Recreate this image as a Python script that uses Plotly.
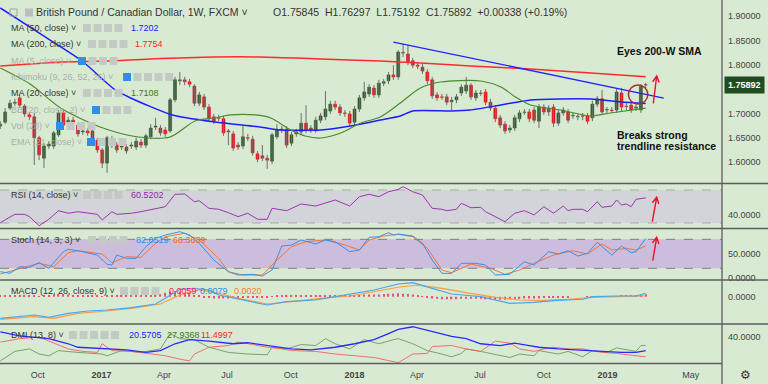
import math
from datetime import date, timedelta
import plotly.graph_objects as go

W, H = 768, 384
PW, PH = 722, 364          # plot area (right margin 46, bottom margin 20)

# ---------------- weekly candles GBP/CAD ----------------
opn = [1.674,1.682,1.711,1.721,1.732,1.715,1.697,1.693,1.650,1.608,
       1.633,1.633,1.656,1.701,1.682,1.686,1.676,1.662,1.664,1.664,
       1.645,1.625,1.598,1.647,1.635,1.631,1.631,1.633,1.631,1.641,
       1.635,1.652,1.672,1.670,1.666,1.664,1.728,1.767,1.769,1.765,
       1.756,1.721,1.734,1.713,1.693,1.691,1.689,1.664,1.658,1.635,
       1.633,1.650,1.647,1.617,1.613,1.608,1.602,1.652,1.666,1.668,
       1.639,1.658,1.662,1.680,1.670,1.666,1.686,1.693,1.705,1.719,
       1.713,1.701,1.699,1.682,1.709,1.732,1.740,1.752,1.738,1.762,
       1.767,1.779,1.775,1.824,1.822,1.808,1.799,1.795,1.785,1.769,
       1.738,1.734,1.734,1.724,1.728,1.742,1.746,1.758,1.732,1.742,
       1.744,1.723,1.711,1.691,1.678,1.666,1.670,1.689,1.703,1.703,
       1.707,1.684,1.713,1.711,1.713,1.680,1.701,1.703,1.695,1.693,
       1.695,1.695,1.691,1.719,1.730,1.707,1.707,1.707,1.742,1.715,
       1.717,1.711,1.707,1.75845]
high = [1.684,1.711,1.728,1.730,1.738,1.719,1.703,1.701,1.654,1.639,
        1.643,1.664,1.707,1.707,1.693,1.693,1.682,1.670,1.670,1.668,
        1.650,1.629,1.654,1.654,1.641,1.639,1.637,1.641,1.650,1.647,
        1.658,1.678,1.691,1.676,1.672,1.732,1.775,1.785,1.775,1.771,
        1.760,1.744,1.740,1.719,1.699,1.697,1.695,1.668,1.664,1.641,
        1.674,1.658,1.654,1.623,1.635,1.615,1.660,1.678,1.674,1.674,
        1.662,1.668,1.701,1.717,1.676,1.693,1.701,1.746,1.726,1.726,
        1.719,1.707,1.705,1.715,1.738,1.765,1.760,1.758,1.769,1.771,
        1.785,1.799,1.830,1.843,1.841,1.814,1.804,1.802,1.791,1.775,
        1.744,1.740,1.740,1.734,1.740,1.760,1.775,1.762,1.748,1.748,
        1.750,1.730,1.717,1.697,1.684,1.676,1.697,1.707,1.709,1.709,
        1.713,1.719,1.719,1.717,1.719,1.707,1.713,1.709,1.701,1.699,
        1.701,1.701,1.726,1.736,1.748,1.713,1.713,1.750,1.752,1.721,
        1.723,1.719,1.760,1.76297]
low = [1.668,1.678,1.707,1.715,1.711,1.693,1.686,1.594,1.604,1.588,
       1.627,1.627,1.652,1.670,1.674,1.676,1.652,1.656,1.654,1.639,
       1.619,1.588,1.578,1.629,1.619,1.625,1.617,1.627,1.625,1.629,
       1.629,1.647,1.666,1.654,1.652,1.660,1.723,1.758,1.758,1.754,
       1.715,1.715,1.707,1.682,1.678,1.684,1.654,1.635,1.623,1.625,
       1.627,1.643,1.613,1.600,1.602,1.586,1.596,1.647,1.660,1.629,
       1.633,1.652,1.656,1.660,1.660,1.660,1.680,1.686,1.699,1.707,
       1.695,1.693,1.674,1.676,1.703,1.726,1.734,1.732,1.732,1.756,
       1.760,1.769,1.769,1.816,1.799,1.793,1.791,1.781,1.760,1.730,
       1.726,1.728,1.717,1.707,1.721,1.736,1.740,1.728,1.726,1.736,
       1.717,1.705,1.682,1.670,1.658,1.660,1.664,1.682,1.697,1.682,
       1.680,1.670,1.697,1.695,1.672,1.674,1.695,1.680,1.689,1.686,
       1.686,1.678,1.684,1.713,1.697,1.699,1.701,1.701,1.703,1.707,
       1.701,1.705,1.701,1.75192]
close_ = [1.678,1.703,1.721,1.723,1.717,1.699,1.693,1.650,1.615,1.633,
          1.637,1.660,1.701,1.676,1.686,1.682,1.658,1.664,1.660,1.645,
          1.625,1.598,1.650,1.635,1.625,1.633,1.623,1.635,1.643,1.635,
          1.654,1.670,1.674,1.660,1.658,1.728,1.769,1.769,1.765,1.760,
          1.721,1.738,1.713,1.689,1.684,1.690,1.660,1.662,1.629,1.631,
          1.652,1.649,1.619,1.606,1.608,1.604,1.656,1.666,1.668,1.635,
          1.656,1.662,1.680,1.666,1.666,1.686,1.695,1.709,1.719,1.713,
          1.701,1.700,1.680,1.709,1.732,1.744,1.754,1.738,1.762,1.765,
          1.779,1.775,1.826,1.825,1.806,1.799,1.797,1.787,1.767,1.736,
          1.732,1.733,1.723,1.727,1.734,1.754,1.758,1.734,1.742,1.741,
          1.723,1.711,1.689,1.676,1.664,1.670,1.691,1.701,1.702,1.689,
          1.686,1.713,1.703,1.703,1.680,1.701,1.707,1.686,1.696,1.694,
          1.694,1.684,1.719,1.730,1.703,1.708,1.706,1.744,1.713,1.714,
          1.707,1.713,1.7555,1.75892]

# ---------------- moving averages ----------------
ma50_dates = ["2016-08-08","2016-10-05","2016-12-04","2017-01-07","2017-01-21","2017-02-12",
              "2017-04-13","2017-06-14","2017-08-18","2017-09-16","2017-11-13","2017-12-26",
              "2018-02-07","2018-03-08","2018-03-26","2018-05-20","2018-06-17","2018-07-31",
              "2018-09-12","2018-10-25","2018-12-08","2019-01-20","2019-02-25"]
ma50_vals = [1.9165,1.8631,1.8076,1.7645,1.7481,1.7317,1.6968,1.6824,1.6721,1.6660,1.6660,
             1.6742,1.6865,1.6947,1.7050,1.7050,1.7070,1.7173,1.7276,1.7296,1.7296,1.7235,1.7202]
ma200_dates = ["2016-08-08","2016-09-20","2016-11-03","2017-01-07","2017-03-12","2017-06-14",
               "2017-08-18","2017-11-13","2018-02-07","2018-04-06","2018-06-17","2018-09-12",
               "2018-12-08","2019-02-25"]
ma200_vals = [1.7974,1.8015,1.8056,1.8076,1.8118,1.8159,1.8159,1.8118,1.8076,1.8035,1.7974,
              1.7912,1.7830,1.7754]
ma20_dates = ["2016-08-08","2016-09-20","2016-11-03","2016-12-30","2017-02-23","2017-04-10",
              "2017-05-16","2017-06-14","2017-07-06","2017-08-11","2017-09-02","2017-10-01",
              "2017-10-22","2017-11-13","2017-12-12","2018-01-10","2018-02-07","2018-03-08",
              "2018-04-06","2018-05-05","2018-07-02","2018-07-31","2018-08-21","2018-09-12",
              "2018-10-25","2018-12-08","2019-01-05","2019-02-25"]
ma20_vals = [1.7933,1.7604,1.7111,1.6721,1.6516,1.6516,1.6844,1.6906,1.6968,1.6968,1.6906,
             1.6660,1.6536,1.6495,1.6598,1.6803,1.6927,1.7214,1.7522,1.7645,1.7666,1.7543,
             1.7337,1.7173,1.7070,1.6947,1.7009,1.7108]
trend_dates = ["2018-02-26", "2019-03-23"]
trend_vals = [1.8466, 1.7316]

# ---------------- indicators (bar index, value) ----------------
rsi_idx = [0,3,5,6,8,10,12,14,16,18,20,21,23,24,27,29,32,34,36,38,40,41,43,45,47,49,51,53,55,56,
           59,60,62,65,67,69,72,74,76,78,80,82,83,85,87,89,91,92,94,95,97,99,100,102,104,106,108,
           110,112,114,116,117,118,120,121,123,124,126,127,128,129,130,131,133]
rsi_val = [30.4,40.5,40.5,37.7,26.7,34.5,44.9,41.8,43.7,42.5,40.5,33.6,43.7,40.5,41.8,43.7,47.8,
           49.8,64.8,65.2,55.8,57.0,47.8,46.6,42.5,37.7,41.8,34.5,34.5,47.8,44.9,47.8,53.0,50.6,
           54.6,57.9,50.6,61.9,64.8,61.9,67.9,70.8,74.0,67.9,63.9,47.8,46.6,44.9,46.6,53.9,48.5,
           49.0,43.7,37.7,31.6,41.8,44.9,39.7,49.8,41.8,50.6,44.9,46.6,46.6,43.7,55.8,49.0,50.6,
           57.9,51.8,53.0,49.8,58.7,60.52]
k_idx = [0,2,4,6,8,10,13,14,16,20,22,23,24,26,28,30,32,34,37,39,41,44,47,49,52,54,56,58,60,62,
         65,67,69,72,74,76,78,80,81,82,85,87,89,91,93,95,98,100,102,105,106,108,110,113,115,117,
         119,121,123,126,128,130,131,133]
k_val = [13,9.6,23.3,22,31.6,20,54.4,59.3,56.4,47.5,28.3,26.8,47.5,40.7,40.7,64.7,82,88.9,95.8,
         88.9,71.8,37.2,13,6.1,7.6,4.1,16.5,66.2,68.2,78.6,70.3,78.6,75.1,54.4,57.9,84.2,85.4,
         93.7,88.9,91,86.9,71.8,37.2,9.6,9.6,30.4,30.4,26.8,6.1,7.6,16.5,33.7,26.8,54.4,49.6,
         56.4,45.5,51.1,73.8,47.5,66.2,52.3,54.4,82.05]
d_idx = [0,4,8,11,14,16,21,23,26,29,32,34,38,41,45,47,50,54,57,60,63,67,71,74,76,79,82,85,88,91,
         93,97,101,104,107,110,114,118,121,124,126,129,131,133]
d_val = [8.2,20,30.4,23.3,52.3,56.4,49.6,31.6,44,42.8,71.8,85.4,92.5,78.6,40.7,13,6.1,6.1,37.2,
         64.7,75.1,78.6,68.2,57.9,78.6,86.9,90.4,85.4,61.4,16.5,10.9,29,20,7.6,16.5,30.4,47.5,
         56.4,49.6,70.3,57.9,61.4,57.9,66.36]
macd_idx = [0,4,7,10,14,18,22,27,32,34,37,40,43,45,49,55,59,65,69,73,77,82,85,89,93,99,103,105,
            110,114,120,122,127,131,133]
macd_val = [-0.0503,-0.0465,-0.0426,-0.048,-0.0387,-0.0333,-0.031,-0.0256,-0.017,-0.0038,0.0172,
            0.0195,0.0156,0.004,-0.006,-0.0193,-0.0116,-0.0077,0.0,0.0079,0.0156,0.0295,0.0326,
            0.0195,0.0063,0.0,-0.0093,-0.0155,-0.013,-0.0093,-0.006,0.0,0.0016,0.0016,0.0079]
sig_idx = [0,7,11,16,22,27,33,37,41,45,49,55,60,66,72,77,82,86,91,96,102,107,111,117,122,127,133]
sig_val = [-0.0526,-0.0465,-0.0503,-0.0387,-0.0333,-0.027,-0.017,0.004,0.0156,0.0079,-0.0038,
           -0.017,-0.0116,-0.0038,0.0016,0.0116,0.0219,0.0272,0.0195,0.0093,-0.0014,-0.0077,
           -0.0093,-0.006,-0.0014,0.0,0.002]
hist_val = [0.002,0.002,0.0025,0.003,0.003,0.0035,0.003,0.002,0.001,0.002,
            0.004,0.005,0.006,0.006,0.005,0.004,0.004,0.003,0.003,0.003,
            0.002,0.001,0.002,0.002,0.002,0.002,0.002,0.002,0.003,0.003,
            0.003,0.003,0.004,0.006,0.009,0.012,0.013,0.012,0.009,0.006,
            0.004,0.002,-0.001,-0.003,-0.004,-0.004,-0.004,-0.004,-0.003,-0.003,
            -0.003,-0.003,-0.003,-0.003,-0.002,-0.002,0.001,0.002,0.003,0.003,
            0.003,0.003,0.003,0.003,0.003,0.003,0.003,0.004,0.004,0.004,
            0.004,0.004,0.004,0.004,0.004,0.005,0.005,0.005,0.005,0.006,
            0.007,0.007,0.008,0.007,0.006,0.005,0.004,0.001,-0.002,-0.004,
            -0.005,-0.006,-0.006,-0.006,-0.006,-0.005,-0.005,-0.005,-0.005,-0.005,
            -0.006,-0.006,-0.007,-0.007,-0.007,-0.006,-0.005,-0.005,-0.004,-0.004,
            -0.004,-0.004,-0.003,-0.003,-0.002,-0.002,-0.002,-0.001,0.0,0.0,
            0.0,0.001,0.001,0.001,0.001,0.0015,0.0015,0.0015,0.002,0.002,
            0.002,0.003,0.004,0.0059]
adx_idx = [0,4,10,14,16,21,26,30,33,36,39,43,48,51,55,60,64,69,73,77,80,82,85,88,91,93,96,99,103,
           106,109,111,115,120,124,128,131,133]
adx_val = [47.9,42,38,30.6,25.5,23.1,21.6,18,20.6,30.6,36.5,34.5,30.6,32.1,28,23.1,21.6,25.5,30.6,
           36.5,45.5,51.5,55.4,50.5,44.5,41.5,38,30.6,28,31.5,28,25.5,23.1,21.6,19.5,18,18,20.57]
pdi_idx = [0,3,6,8,10,12,16,21,22,25,29,33,35,37,40,43,47,51,55,56,59,62,65,67,69,72,75,78,81,82,
           85,88,91,93,95,96,100,105,107,110,111,115,117,120,122,125,127,131,132,133]
pdi_val = [5.6,19.5,23.1,15.6,13.1,20.6,18,15.6,13.1,20.6,18,23.1,45.5,38,36.5,25.5,18,15.6,14.6,
           25.5,23.1,29.5,28,38,30.6,23.1,36.5,30.6,36.5,38,30.6,20.6,15.6,11.6,16.5,23.1,18,10.6,
           15.6,13.1,20.6,15.6,19.5,11.6,20.6,18,24.6,19.5,28,27.94]
mdi_idx = [0,4,8,10,14,17,20,21,23,27,32,34,37,39,40,43,47,49,52,55,58,60,65,69,73,77,82,85,88,89,
           93,96,99,102,105,107,110,112,114,117,120,124,127,133]
mdi_val = [33,38,40.4,34.5,23.1,19.5,18,30.6,20.6,19.5,15.6,13.1,8.2,5.6,15.6,25.5,28,33,29.5,25.5,
           23.1,20.6,19.5,15.6,13.1,10.6,3.1,15.6,16.5,26.5,28,23.1,19.5,34.5,31.5,23.1,19.5,23.1,
           25.5,23.1,23.1,18,16.5,11.5]

x_tick_vals = ["2016-10-01","2017-01-01","2017-04-01","2017-07-01","2017-10-01","2018-01-01",
               "2018-04-01","2018-07-01","2018-10-01","2019-01-01","2019-05-01"]
x_tick_text = ["Oct","<b>2017</b>","Apr","Jul","Oct","<b>2018</b>","Apr","Jul","Oct","<b>2019</b>","May"]
price_ticks = [1.60, 1.65, 1.70, 1.80, 1.85, 1.90]

# ---------------- build ----------------
FONT = "Liberation Sans, Arial, sans-serif"
BG = "#d9ead3"
start = date(2016, 8, 8)
dates = [(start + timedelta(weeks=i)).isoformat() for i in range(len(close_))]
DAY = 86400000

fig = go.Figure()

# wicks
wx, wy = [], []
for d, h, l in zip(dates, high, low):
    wx += [d, d, None]
    wy += [l, h, None]
fig.add_trace(go.Scatter(x=wx, y=wy, mode="lines", line=dict(color="#6e6e6e", width=1),
                         xaxis="x", yaxis="y", hoverinfo="skip"))
# bodies
up_c, dn_c = "#2b5b2b", "#e3161c"
cols = [up_c if c >= o else dn_c for o, c in zip(opn, close_)]
fig.add_trace(go.Bar(x=dates, y=[max(abs(c - o), 0.0003) for o, c in zip(opn, close_)],
                     base=[min(o, c) for o, c in zip(opn, close_)], width=4.2 * DAY,
                     marker=dict(color=cols, line=dict(color=cols, width=0.6)),
                     xaxis="x", yaxis="y", hoverinfo="skip"))
# MAs
fig.add_trace(go.Scatter(x=ma200_dates, y=ma200_vals, mode="lines",
                         line=dict(color="#ff2a2a", width=1.5, shape="spline", smoothing=0.8),
                         xaxis="x", yaxis="y"))
fig.add_trace(go.Scatter(x=ma50_dates, y=ma50_vals, mode="lines",
                         line=dict(color="#1e1eff", width=1.5, shape="spline", smoothing=0.6),
                         xaxis="x", yaxis="y"))
fig.add_trace(go.Scatter(x=ma20_dates, y=ma20_vals, mode="lines",
                         line=dict(color="#4a8a2c", width=1.2, shape="spline", smoothing=0.8),
                         xaxis="x", yaxis="y"))
fig.add_trace(go.Scatter(x=trend_dates, y=trend_vals, mode="lines",
                         line=dict(color="#2424ff", width=1.3), xaxis="x", yaxis="y"))

def sel(idx):
    return [dates[i] for i in idx]

fig.add_trace(go.Scatter(x=sel(rsi_idx), y=rsi_val, mode="lines",
                         line=dict(color="#9c34b0", width=1), xaxis="x", yaxis="y2"))
fig.add_trace(go.Scatter(x=sel(d_idx), y=d_val, mode="lines",
                         line=dict(color="#f2743a", width=1), xaxis="x", yaxis="y3"))
fig.add_trace(go.Scatter(x=sel(k_idx), y=k_val, mode="lines",
                         line=dict(color="#3a8ef0", width=1), xaxis="x", yaxis="y3"))
fig.add_trace(go.Bar(x=dates, y=hist_val, width=1.8 * DAY, marker=dict(color="#ef4f7f", line=dict(width=0)),
                     xaxis="x", yaxis="y4"))
fig.add_trace(go.Scatter(x=sel(sig_idx), y=sig_val, mode="lines",
                         line=dict(color="#ff9a45", width=1.2), xaxis="x", yaxis="y4"))
fig.add_trace(go.Scatter(x=sel(macd_idx), y=macd_val, mode="lines",
                         line=dict(color="#4aa6ee", width=1.2), xaxis="x", yaxis="y4"))
fig.add_trace(go.Scatter(x=sel(pdi_idx), y=pdi_val, mode="lines",
                         line=dict(color="#6c9c58", width=0.9), xaxis="x", yaxis="y5"))
fig.add_trace(go.Scatter(x=sel(mdi_idx), y=mdi_val, mode="lines",
                         line=dict(color="#f06262", width=0.9), xaxis="x", yaxis="y5"))
fig.add_trace(go.Scatter(x=sel(adx_idx), y=adx_val, mode="lines",
                         line=dict(color="#2a2aff", width=1.3), xaxis="x", yaxis="y5"))

def px(x):
    return x / PW

def py(y):
    return 1 - y / PH

shapes = []
annotations = []

# indicator bands
shapes.append(dict(type="rect", xref="paper", yref="y2", x0=0, x1=1, y0=30, y1=70,
                   fillcolor="#d3d4d9", line=dict(width=0), layer="below"))
for v in (30, 70):
    shapes.append(dict(type="line", xref="paper", yref="y2", x0=0, x1=1, y0=v, y1=v,
                       line=dict(color="#a9a9ad", width=1, dash="dash"), layer="below"))
shapes.append(dict(type="rect", xref="paper", yref="y3", x0=0, x1=1, y0=20, y1=80,
                   fillcolor="#cbbddb", line=dict(width=0), layer="below"))
for v in (20, 80):
    shapes.append(dict(type="line", xref="paper", yref="y3", x0=0, x1=1, y0=v, y1=v,
                       line=dict(color="#7d7d85", width=1, dash="dash"), layer="below"))

# pane separators and borders
for yy in (183.5, 228.5, 280, 324):
    shapes.append(dict(type="line", xref="paper", yref="paper", x0=0, x1=W / PW, y0=py(yy), y1=py(yy),
                       line=dict(color="#5c5c5c", width=1.3)))
shapes.append(dict(type="line", xref="paper", yref="paper", x0=0, x1=1, y0=py(363.5), y1=py(363.5),
                   line=dict(color="#5c5c5c", width=1.3)))
shapes.append(dict(type="line", xref="paper", yref="paper", x0=1, x1=1, y0=py(384), y1=1,
                   line=dict(color="#5c5c5c", width=1.3)))
# cover the clipped stoch "0.0000" label lower half
shapes.append(dict(type="rect", xref="paper", yref="paper", x0=px(723), x1=W / PW, y0=py(286), y1=py(281),
                   fillcolor=BG, line=dict(width=0), layer="above"))

# red ellipse around breakout candle
shapes.append(dict(type="circle", xref="x", yref="y", x0="2019-01-31", x1="2019-02-28",
                   y0=1.7193, y1=1.7584, line=dict(color="#a8302e", width=1.5)))

# red arrows
def arrow(tail, head, color="#e8102a"):
    dx, dy = tail[0] - head[0], tail[1] - head[1]
    n = math.hypot(dx, dy)
    ux, uy = dx / n, dy / n
    pts = []
    for a in (math.radians(28), -math.radians(28)):
        rx = ux * math.cos(a) - uy * math.sin(a)
        ry = ux * math.sin(a) + uy * math.cos(a)
        pts.append((head[0] + 7 * rx, head[1] + 7 * ry))
    path = (f"M {px(tail[0])},{py(tail[1])} L {px(head[0])},{py(head[1])} "
            f"M {px(pts[0][0])},{py(pts[0][1])} L {px(head[0])},{py(head[1])} "
            f"L {px(pts[1][0])},{py(pts[1][1])}")
    shapes.append(dict(type="path", xref="paper", yref="paper", path=path,
                       line=dict(color=color, width=1.4)))

arrow((653.3, 103.3), (656.7, 76))
arrow((652.3, 221.7), (656.7, 197.3))
arrow((652.7, 260.7), (656.7, 237.3))

def txt(x, y, s, size=9, color="#333333", anchor="left", family=FONT):
    annotations.append(dict(x=px(x), y=py(y), xref="paper", yref="paper", text=s, showarrow=False,
                            xanchor=anchor, yanchor="middle", borderpad=0,
                            font=dict(size=size, color=color, family=family)))

def icon(x, yc, color):
    shapes.append(dict(type="rect", xref="paper", yref="paper", x0=px(x), x1=px(x + 8),
                       y0=py(yc + 4), y1=py(yc - 4), fillcolor=color, line=dict(width=0)))

GREY_ICON, BLUE_ICON = "#c3cac3", "#2f8ee8"
FADED = "#a7b1a7"

# title row
shapes.append(dict(type="rect", xref="paper", yref="paper", x0=px(10), x1=px(17), y0=py(16), y1=py(9),
                   line=dict(color="#9aa39a", width=1)))
icon(25, 12.5, "#b9c0b9")
txt(35, 12, "British Pound / Canadian Dollar, 1W, FXCM \u02c5", size=10.5)
txt(272, 12, "O1.75845\u00a0\u00a0H1.76297\u00a0\u00a0L1.75192\u00a0\u00a0C1.75892\u00a0\u00a0+0.00338 (+0.19%)",
    size=10.5)

rows = [
    (28, "MA (50, close) \u02c5", False, 83, 4, [(130, "1.7202", "#1a1aff")]),
    (44, "MA (200, close) \u02c5", False, 88, 4, [(134, "1.7754", "#ff1a1a")]),
    (61, "MA (5, close) \u02c5", True, 78, 4, []),
    (77, "Ichimoku (9, 26, 52, 26) \u02c5", True, 123, 5, []),
    (93, "MA (20, close) \u02c5", False, 83, 4, [(130, "1.7108", "#3a7a20")]),
    (110, "BB (20, close, 2) \u02c5", True, 92, 4, []),
    (126, "Vol (20) \u02c5", True, 56, 4, []),
    (142, "EMA (21, close) \u02c5", True, 87, 4, []),
    (195, "RSI (14, close) \u02c5", False, 83, 4, [(130, "60.5202", "#8e2aa8")]),
    (240, "Stoch (14, 3, 3) \u02c5", False, 88, 4, [(135, "82.0519", "#2a8ff0"), (172, "66.3639", "#f5661e")]),
    (291, "MACD (12, 26, close, 9) \u02c5", False, 120, 4,
     [(168, "0.0059", "#ff2060"), (199, "0.0079", "#2a8ff0"), (233, "0.0020", "#f5801e")]),
    (335, "DMI (13, 8) \u02c5", False, 69, 5,
     [(128, "20.5705", "#1a1aff"), (166, "27.9368", "#3a7a20"), (200, "11.4997", "#ff1a1a")]),
]
for yc, label, faded, ix, n, vals in rows:
    txt(10, yc, label, color=FADED if faded else "#333333")
    for k in range(n):
        icon(ix + k * 10.5, yc, BLUE_ICON if (faded and k == 0) else GREY_ICON)
    for vx, vs, vc in vals:
        txt(vx, yc, vs, color=vc)

# chart comments
txt(616, 51, "<b>Eyes 200-W SMA</b>", size=10.5, color="#111111")
txt(616, 135, "<b>Breaks strong</b>", size=10.5, color="#111111")
txt(616, 146, "<b>trendline resistance</b>", size=10.5, color="#111111")

# last price label
annotations.append(dict(x=px(724), y=1.75892, xref="paper", yref="y", text="<b>1.75892</b>",
                        showarrow=False, xanchor="left", yanchor="middle", bgcolor="#214b21",
                        borderpad=3, font=dict(size=9, color="#ffffff", family=FONT)))
txt(745, 375, "\u2699", size=12, color="#333333", anchor="center", family="DejaVu Sans")

axis_font = dict(size=9, color="#444444", family=FONT)
yax_common = dict(side="right", showgrid=False, zeroline=False, showline=False, ticks="",
                  ticklabelstandoff=5, tickfont=axis_font, fixedrange=True)

fig.update_layout(
    width=W, height=H, margin=dict(l=0, r=W - PW, t=0, b=H - PH),
    paper_bgcolor=BG, plot_bgcolor=BG, showlegend=False, barmode="overlay",
    font=dict(family=FONT),
    shapes=shapes, annotations=annotations,
    xaxis=dict(domain=[0, 1], anchor="y5", type="date", range=["2016-08-07 14:00", "2019-06-15"],
               tickvals=x_tick_vals, ticktext=x_tick_text, showgrid=False, zeroline=False,
               showline=False, ticks="", ticklabelstandoff=4, tickfont=axis_font),
    yaxis=dict(domain=[1 - 183 / PH, 1], anchor="x", range=[1.5571, 1.9329],
               tickvals=price_ticks, ticktext=[f"{v:.5f}" for v in price_ticks], **yax_common),
    yaxis2=dict(domain=[1 - 228 / PH, 1 - 184 / PH], anchor="x", range=[23.9, 77.3],
                tickvals=[40], ticktext=["40.0000"], **yax_common),
    yaxis3=dict(domain=[1 - 280 / PH, 1 - 229 / PH], anchor="x", range=[-4.2, 101.4],
                tickvals=[0, 50], ticktext=["0.0000", "50.0000"], **yax_common),
    yaxis4=dict(domain=[1 - 324 / PH, 1 - 280 / PH], anchor="x", range=[-0.0635, 0.0388],
                tickvals=[0], ticktext=["0.0000"], **yax_common),
    yaxis5=dict(domain=[0, 1 - 324 / PH], anchor="x", range=[1.1, 59.4],
                tickvals=[40], ticktext=["40.0000"], **yax_common),
)

fig.write_html("out.html", config={"displayModeBar": False},
               post_script="document.body.style.margin='0';document.body.style.overflow='hidden';")
